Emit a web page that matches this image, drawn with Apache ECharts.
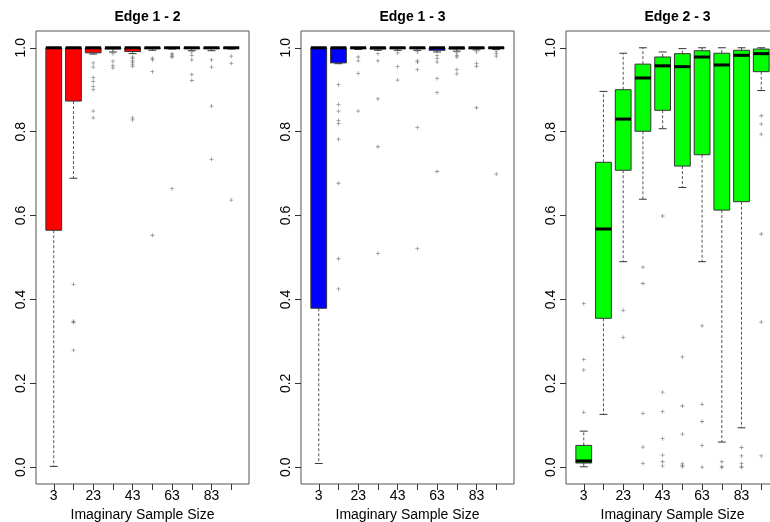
<!DOCTYPE html>
<html>
<head>
<meta charset="UTF-8">
<title>Edge boxplots</title>
<script type="text/javascript" src="https://cdn.jsdelivr.net/npm/echarts@6/dist/echarts.min.js"></script>
<style>
	body { margin: 0; background: #fff; }
</style>
</head>
<body>
	<div id="div" style="width:770px;height:522px"></div>

	<script type="text/javascript">
		// imaginary sample sizes (x categories)
		var sizes = ['3', '13', '23', '33', '43', '53', '63', '73', '83', '93'];
		var yTicks = [0, 0.2, 0.4, 0.6, 0.8, 1.0];
		var titles = ['Edge 1 - 2', 'Edge 1 - 3', 'Edge 2 - 3'];
		var colors = ['#ff0000', '#0000ff', '#00ff00'];

		// Edge 1 - 2
		var low12 = [0.002, 0.689, 0.985, 0.990, 0.986, 0.994, 0.997, 0.993, 0.993, 0.997];
		var q1_12 = [0.565, 0.873, 0.988, 0.997, 0.991, 0.998, 0.999, 0.998, 0.998, 0.999];
		var med12 = [1, 1, 1, 1, 1, 1, 1, 1, 1, 1];
		var q3_12 = [1, 1, 1, 1, 1, 1, 1, 1, 1, 1];
		var high12 = [1, 1, 1, 1, 1, 1, 1, 1, 1, 1];
		var out12 = [
			[],
			[0.436, 0.348, 0.345, 0.279],
			[0.964, 0.954, 0.929, 0.920, 0.908, 0.900, 0.849, 0.833],
			[0.986, 0.968, 0.958, 0.952],
			[0.978, 0.974, 0.969, 0.966, 0.961, 0.956, 0.833, 0.828],
			[0.975, 0.971, 0.943, 0.553],
			[0.986, 0.983, 0.980, 0.978, 0.664],
			[0.990, 0.982, 0.971, 0.936, 0.922],
			[0.971, 0.954, 0.861, 0.734],
			[0.980, 0.963, 0.637]
		];

		// Edge 1 - 3
		var low13 = [0.009, 0.962, 0.996, 0.994, 0.994, 0.994, 0.990, 0.992, 0.995, 0.996];
		var q1_13 = [0.379, 0.964, 0.998, 0.997, 0.998, 0.998, 0.994, 0.997, 0.998, 0.999];
		var med13 = [1, 1, 1, 1, 1, 1, 1, 1, 1, 1];
		var q3_13 = [1, 1, 1, 1, 1, 1, 1, 1, 1, 1];
		var high13 = [1, 1, 1, 1, 1, 1, 1, 1, 1, 1];
		var out13 = [
			[],
			[0.912, 0.865, 0.849, 0.827, 0.819, 0.782, 0.677, 0.497, 0.425],
			[0.978, 0.969, 0.939, 0.849],
			[0.986, 0.969, 0.878, 0.764, 0.510],
			[0.988, 0.955, 0.923],
			[0.990, 0.969, 0.966, 0.948, 0.810, 0.521],
			[0.982, 0.974, 0.966, 0.927, 0.893, 0.705],
			[0.988, 0.982, 0.978, 0.948, 0.938],
			[0.990, 0.963, 0.956, 0.857],
			[0.992, 0.986, 0.980, 0.699]
		];

		// Edge 2 - 3
		var low23 = [0.001, 0.126, 0.490, 0.639, 0.807, 0.667, 0.490, 0.060, 0.094, 0.898];
		var q1_23 = [0.010, 0.355, 0.708, 0.801, 0.851, 0.718, 0.745, 0.613, 0.633, 0.943];
		var med23 = [0.015, 0.568, 0.830, 0.928, 0.957, 0.955, 0.978, 0.959, 0.982, 0.986];
		var q3_23 = [0.052, 0.727, 0.900, 0.961, 0.978, 0.986, 0.993, 0.987, 0.994, 0.997];
		var high23 = [0.086, 0.896, 0.987, 1.0, 0.990, 0.998, 1.0, 1.0, 1.0, 1.0];
		var out23 = [
			[0.390, 0.257, 0.232, 0.131],
			[],
			[0.374, 0.309],
			[0.477, 0.438, 0.128, 0.048, 0.009],
			[0.599, 0.179, 0.133, 0.068, 0.029, 0.013, 0.003],
			[0.263, 0.146, 0.079, 0.008, 0.004, 0.001],
			[0.337, 0.150, 0.109, 0.052, 0.000],
			[0.013, 0.001, 0.000],
			[0.047, 0.027, 0.009, 0.001, 0.000],
			[0.838, 0.818, 0.794, 0.556, 0.346, 0.027]
		];

		var panels = [
			[low12, q1_12, med12, q3_12, high12, out12],
			[low13, q1_13, med13, q3_13, high13, out13],
			[low23, q1_23, med23, q3_23, high23, out23]
		];

		var font = 'Liberation Sans, Arial, sans-serif';
		var frameLeft = [36, 301, 566];
		var frameW = 213, frameTop = 31, frameH = 453;
		var unit = frameW / 10.8;

		function boxRenderer(color) {
			return function(params, api) {
				var x = api.value(0);
				var lo = api.coord([x, api.value(1)]);
				var q1 = api.coord([x, api.value(2)]);
				var md = api.coord([x, api.value(3)]);
				var q3 = api.coord([x, api.value(4)]);
				var hi = api.coord([x, api.value(5)]);
				var band = api.size([1, 0])[0];
				var bw = band * 0.8, cw = band * 0.4, cx = lo[0];
				var dash = { stroke: '#555', lineWidth: 1, lineDash: [3, 2] };
				var solid = { stroke: '#333', lineWidth: 1 };
				return {
					type: 'group',
					children: [
						{ type: 'line', shape: { x1: cx, y1: q3[1], x2: cx, y2: hi[1] }, style: dash },
						{ type: 'line', shape: { x1: cx, y1: q1[1], x2: cx, y2: lo[1] }, style: dash },
						{ type: 'line', shape: { x1: cx - cw / 2, y1: hi[1], x2: cx + cw / 2, y2: hi[1] }, style: solid },
						{ type: 'line', shape: { x1: cx - cw / 2, y1: lo[1], x2: cx + cw / 2, y2: lo[1] }, style: solid },
						{ type: 'rect', shape: { x: cx - bw / 2, y: q3[1], width: bw, height: q1[1] - q3[1] },
							style: { fill: color, stroke: '#333', lineWidth: 1 } },
						{ type: 'line', shape: { x1: cx - bw / 2, y1: md[1], x2: cx + bw / 2, y2: md[1] },
							style: { stroke: '#000', lineWidth: 3 } }
					]
				};
			};
		}

		var grid = [], xAxis = [], yAxis = [], series = [], title = [];
		for (var p = 0; p < 3; p++) {
			// frame
			grid.push({ left: frameLeft[p], top: frameTop, width: frameW, height: frameH, outerBoundsMode: 'none',
				show: true, borderColor: '#555', borderWidth: 1, backgroundColor: 'transparent' });
			xAxis.push({ type: 'value', gridIndex: p, min: 0, max: 1, show: false });
			yAxis.push({
				type: 'value', gridIndex: p, min: -0.04, max: 1.04,
				axisLine: { show: false }, splitLine: { show: false },
				axisTick: { show: true, length: 6, customValues: yTicks, lineStyle: { color: '#333' } },
				axisLabel: { customValues: yTicks, rotate: 90, margin: 8, fontSize: 14, fontFamily: font, color: '#000',
					formatter: function(v) { return v.toFixed(1); } }
			});
			title.push({ text: titles[p], left: frameLeft[p] + frameW / 2, top: 5, textAlign: 'center',
				textStyle: { fontSize: 14, fontWeight: 'bold', fontFamily: font, color: '#000' } });
		}
		for (var p = 0; p < 3; p++) {
			var g = 3 + p;
			grid.push({ left: frameLeft[p] + unit * 0.4, top: frameTop, width: unit * 10, height: frameH,
				outerBoundsMode: 'none' });
			xAxis.push({
				type: 'category', gridIndex: g, data: sizes, boundaryGap: true,
				axisLine: { show: false, onZero: false },
				axisTick: { show: true, alignWithLabel: true, interval: 0, length: 6, lineStyle: { color: '#333' } },
				axisLabel: { interval: 1, margin: 5, fontSize: 14, fontFamily: font, color: '#000' },
				name: 'Imaginary Sample Size', nameLocation: 'middle', nameGap: 20,
				nameTextStyle: { fontSize: 14, fontFamily: font, color: '#000' }
			});
			yAxis.push({ type: 'value', gridIndex: g, min: -0.04, max: 1.04, show: false });

			var d = panels[p];
			var boxData = [], outData = [];
			for (var i = 0; i < sizes.length; i++) {
				boxData.push([i, d[0][i], d[1][i], d[2][i], d[3][i], d[4][i]]);
				d[5][i].forEach(function(v) { outData.push([i, v]); });
			}
			series.push({
				type: 'custom', xAxisIndex: g, yAxisIndex: g,
				renderItem: boxRenderer(colors[p]),
				encode: { x: 0, y: [1, 2, 3, 4, 5] },
				data: boxData, silent: true
			});
			series.push({
				type: 'scatter', xAxisIndex: g, yAxisIndex: g,
				symbol: 'path://M2,0h1v5h-1zM0,2h5v1h-5z', symbolSize: 4,
				itemStyle: { color: '#777' },
				data: outData, silent: true
			});
		}

		var mychart = echarts.init(document.getElementById('div'));
		mychart.setOption({
			animation: false,
			backgroundColor: '#fff',
			title: title,
			grid: grid,
			xAxis: xAxis,
			yAxis: yAxis,
			series: series
		});
	</script>
</body>
</html>
